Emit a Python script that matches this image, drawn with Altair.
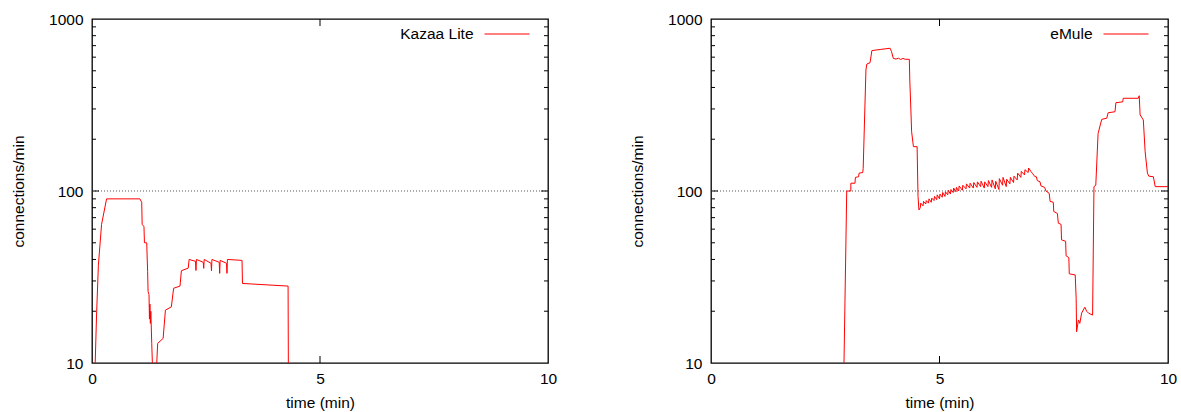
import altair as alt
import pandas as pd

# ---------------- data ----------------
kazaa_points = [
    (0.06, 7), (0.07, 10), (0.10, 19), (0.14, 37), (0.21, 64), (0.32, 90),
    (1.05, 90), (1.09, 86), (1.10, 64), (1.14, 62), (1.15, 50), (1.20, 50),
    (1.22, 34), (1.23, 26), (1.25, 25), (1.26, 18), (1.27, 22), (1.28, 17),
    (1.29, 20), (1.31, 13), (1.33, 9), (1.34, 5), (1.41, 5), (1.42, 10),
    (1.44, 13), (1.56, 13.9), (1.61, 20.3), (1.74, 21.2), (1.79, 27.2),
    (1.93, 28), (1.96, 34.4), (2.11, 35.6), (2.13, 40),
    (2.27, 39), (2.28, 34.5), (2.29, 40), (2.44, 38.5), (2.45, 35.5), (2.46, 40),
    (2.61, 38), (2.62, 34.4), (2.63, 40), (2.79, 38.5), (2.80, 33.2), (2.81, 39.5),
    (2.95, 38), (2.96, 33.2), (2.97, 40), (3.29, 39.5), (3.30, 29),
    (4.30, 28), (4.31, 5),
]

emule_points = [
    (2.90, 5), (2.91, 10), (2.97, 100), (3.06, 100), (3.06, 111), (3.15, 111),
    (3.16, 120), (3.23, 121), (3.24, 127), (3.32, 128), (3.33, 135), (3.39, 505),
    (3.41, 547), (3.48, 557), (3.52, 655), (3.70, 665), (3.92, 676), (3.95, 646),
    (3.99, 590), (4.05, 585), (4.10, 592), (4.15, 582), (4.20, 590), (4.25, 583),
    (4.34, 583), (4.35, 442), (4.37, 316), (4.39, 221), (4.43, 181), (4.51, 181),
    (4.53, 93), (4.55, 77.6),
    (4.58, 80), (4.59, 85), (4.64, 82), (4.65, 87), (4.70, 84), (4.71, 88),
    (4.76, 85), (4.77, 90), (4.82, 86), (4.83, 91), (4.88, 88), (4.89, 93),
    (4.94, 89), (4.95, 95), (5.00, 90), (5.01, 96), (5.06, 92), (5.07, 98),
    (5.12, 93), (5.13, 99), (5.18, 95), (5.19, 101), (5.24, 96), (5.25, 102),
    (5.30, 98), (5.31, 104), (5.36, 99), (5.37, 105), (5.42, 100), (5.43, 107),
    (5.50, 101), (5.51, 108), (5.58, 103), (5.59, 110), (5.66, 104), (5.67, 111),
    (5.74, 104), (5.75, 112), (5.82, 105), (5.83, 113), (5.90, 106), (5.91, 114),
    (5.98, 104), (5.99, 113), (6.06, 106), (6.07, 115), (6.14, 105), (6.15, 116),
    (6.22, 103), (6.23, 114), (6.30, 102), (6.31, 118), (6.38, 108), (6.39, 120),
    (6.46, 106), (6.47, 117), (6.54, 110), (6.55, 120), (6.62, 112), (6.63, 122),
    (6.70, 116), (6.71, 127), (6.78, 120), (6.79, 130), (6.86, 124), (6.87, 133),
    (6.94, 128), (6.95, 136), (7.00, 130), (7.04, 126), (7.09, 121),
    (7.12, 121), (7.14, 115), (7.20, 113), (7.22, 107), (7.30, 105), (7.33, 100),
    (7.40, 97), (7.42, 87), (7.49, 86), (7.50, 76), (7.58, 74), (7.60, 65),
    (7.66, 64), (7.67, 52), (7.76, 51), (7.77, 42), (7.83, 41), (7.84, 33),
    (7.97, 32.5), (7.99, 23.8), (8.00, 15.2), (8.04, 17.8), (8.07, 17),
    (8.11, 19.5), (8.18, 21.1), (8.22, 20), (8.26, 19.5), (8.35, 19.0),
    (8.38, 106), (8.42, 108), (8.47, 216), (8.55, 261), (8.66, 265), (8.69, 285),
    (8.84, 289), (8.86, 326), (9.01, 330), (9.02, 346), (9.35, 346), (9.37, 358),
    (9.39, 277), (9.46, 259), (9.50, 169), (9.55, 127), (9.58, 122), (9.68, 121),
    (9.72, 106), (10.0, 106),
]

x_labels = [0, 5, 10]
y_labels = [10, 100, 1000]
y_grid = [100]
y_major_ticks = [100]
y_minor_ticks = [20, 30, 40, 50, 60, 70, 80, 90, 200, 300, 400, 500, 600, 700, 800, 900]
x_major_ticks = [5]

H = 344
FONT = "Liberation Sans"
FS = 15.5


def panel(points, name, W):
    df = pd.DataFrame(points, columns=["t", "v"])
    xs = alt.Scale(domain=[0, 10], nice=False, zero=False)
    ys = alt.Scale(type="log", domain=[10, 1000], nice=False)
    x_axis = alt.Axis(values=x_labels, title="time (min)", orient="bottom", titleY=39,
                      titleBaseline="middle", labelPadding=8, labelFlush=False)
    y_axis = alt.Axis(values=y_labels, title="connections/min", format="d", orient="left",
                      titleX=-74, titleY=H / 2, titleAngle=270,
                      titleBaseline="middle", titleAlign="center", labelPadding=9)

    grid = alt.Chart(pd.DataFrame({"g": y_grid})).mark_rule(
        color="#555555", strokeDash=[1, 2], strokeWidth=1
    ).encode(y=alt.Y("g:Q", scale=ys, axis=None), x=alt.value(0), x2=alt.value(W))

    line = alt.Chart(df).mark_line(color="#ff0000", strokeWidth=1, clip=True).encode(
        x=alt.X("t:Q", scale=xs, axis=x_axis),
        y=alt.Y("v:Q", scale=ys, axis=y_axis),
        order=alt.Order("t:Q"),
    )

    def yticks(vals, length):
        d = pd.DataFrame({"tick": vals})
        left = alt.Chart(d).mark_tick(color="black", thickness=1, size=length, opacity=1).encode(
            y=alt.Y("tick:Q", scale=ys, axis=None), x=alt.value(length / 2))
        right = alt.Chart(d).mark_tick(color="black", thickness=1, size=length, opacity=1).encode(
            y=alt.Y("tick:Q", scale=ys, axis=None), x=alt.value(W - length / 2))
        return [left, right]

    dx = pd.DataFrame({"tick": x_major_ticks})
    xb = alt.Chart(dx).mark_tick(color="black", thickness=1, size=7, opacity=1).encode(
        x=alt.X("tick:Q", scale=xs, axis=None), y=alt.value(H - 3.5))
    xt = alt.Chart(dx).mark_tick(color="black", thickness=1, size=7, opacity=1).encode(
        x=alt.X("tick:Q", scale=xs, axis=None), y=alt.value(3.5))

    lg = pd.DataFrame({"label": [name]})
    lg_text = alt.Chart(lg).mark_text(
        align="right", baseline="middle", font=FONT, fontSize=FS, color="black"
    ).encode(text="label:N", x=alt.value(381.5), y=alt.value(15))
    lg_line = alt.Chart(lg).mark_rule(color="#ff0000", strokeWidth=1).encode(
        x=alt.value(392.5), x2=alt.value(437.5), y=alt.value(15))

    layers = [grid, line] + yticks(y_major_ticks, 7) + yticks(y_minor_ticks, 4) + [xb, xt, lg_text, lg_line]
    return alt.layer(*layers).resolve_axis(x="independent", y="independent").properties(width=W, height=H)


chart = alt.hconcat(
    panel(kazaa_points, "Kazaa Lite", 456),
    panel(emule_points, "eMule", 457),
    spacing=163, bounds="flush",
).properties(
    padding={"left": 10, "top": 11, "right": 0, "bottom": 0}
).configure_view(
    stroke="black", strokeWidth=1.3
).configure_axis(
    domain=False, ticks=False, tickSize=0, grid=False,
    labelFont=FONT, labelFontSize=FS, labelColor="black",
    titleFont=FONT, titleFontSize=FS, titleFontWeight="normal", titleColor="black",
)

chart.save("out.html", embed_options={"renderer": "svg", "actions": False})
